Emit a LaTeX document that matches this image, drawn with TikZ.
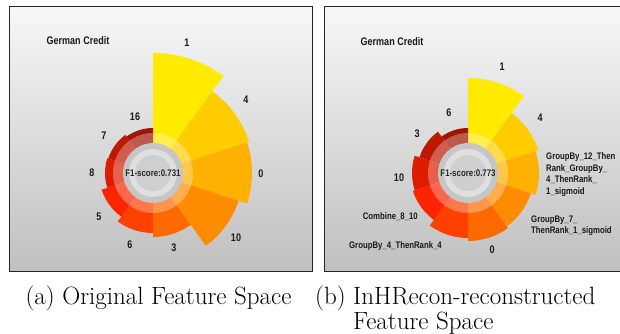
\documentclass[tikz,border=0pt]{standalone}
\usepackage{fontspec}
\newfontfamily\chartfont{Liberation Sans Bold}[FakeStretch=0.82]
\usepackage{tikz}

% wedge colours, outer ring, clockwise from the top
\definecolor{w0}{HTML}{FFEA00}
\definecolor{w1}{HTML}{FFCC00}
\definecolor{w2}{HTML}{FFB000}
\definecolor{w3}{HTML}{FF8C00}
\definecolor{w4}{HTML}{FF6A00}
\definecolor{w5}{HTML}{FF4000}
\definecolor{w6}{HTML}{FF2400}
\definecolor{w7}{HTML}{DD1C00}
\definecolor{w8}{HTML}{BE1800}
\definecolor{w9}{HTML}{A01400}

\tikzstyle{panel} = [draw=black!85, line width=1pt]
\tikzstyle{numlabel} = [font=\chartfont\fontsize{11}{12}\selectfont,
    inner sep=0pt, text=black!90]
\tikzstyle{namelabel} = [font=\chartfont\fontsize{9.5}{11.6}\selectfont,
    inner sep=0pt, align=left, text=black!90]
\tikzstyle{titlelabel} = [font=\chartfont\fontsize{11}{12}\selectfont,
    inner sep=0pt, text=black!90]
\tikzstyle{scorelabel} = [font=\chartfont\fontsize{9.6}{11}\selectfont,
    inner sep=0pt, text=black!85]
\tikzstyle{caption} = [font=\fontsize{25}{25}\selectfont, inner sep=0pt]

\begin{document}
\begin{tikzpicture}[x=1pt, y=1pt]
\useasboundingbox (0,0) rectangle (620,334);

% backgrounds
\shade[top color=gray!6, bottom color=gray!50] (9,62) rectangle (312,327);
\shade[top color=gray!6, bottom color=gray!50] (324,62) rectangle (623,327);

\coordinate (ca) at (153,161);
\coordinate (cb) at (468,161);

% original feature space
\foreach \r [count=\i from 0] in {120,101,99,90,64,60,54,48,47,45}{
  \fill[w\i] (ca) -- ++({90-36*\i}:\r)
    arc[start angle={90-36*\i}, end angle={54-36*\i}, radius=\r] -- cycle;
}
\fill[white, opacity=0.3, even odd rule] (ca) circle[radius=40] (ca) circle[radius=30];
\fill[gray!45] (ca) circle[radius=30];
\fill[gray!25] (ca) circle[radius=24];
\fill[gray!38] (ca) circle[radius=18];

% reconstructed feature space
\foreach \r [count=\i from 0] in {95,74,71,66,68,65,58,56,51,45}{
  \fill[w\i] (cb) -- ++({90-36*\i}:\r)
    arc[start angle={90-36*\i}, end angle={54-36*\i}, radius=\r] -- cycle;
}
\fill[white, opacity=0.3, even odd rule] (cb) circle[radius=40] (cb) circle[radius=30];
\fill[gray!45] (cb) circle[radius=30];
\fill[gray!25] (cb) circle[radius=24];
\fill[gray!38] (cb) circle[radius=18];

% labels (a)
\node[titlelabel] (titlea) at (78,293) {German Credit};
\node[scorelabel] (scorea) at (ca) {F1-score:0.731};
\node[numlabel] (a1) at (187,291) {1};
\node[numlabel] (a4) at (246,234) {4};
\node[numlabel] (a0) at (261,160) {0};
\node[numlabel] (a10) at (236,96) {10};
\node[numlabel] (a3) at (174,86) {3};
\node[numlabel] (a6) at (130,89) {6};
\node[numlabel] (a5) at (99,117) {5};
\node[numlabel] (a8) at (92,161) {8};
\node[numlabel] (a7) at (104,198) {7};
\node[numlabel] (a16) at (135,217) {16};

% labels (b)
\node[titlelabel] (titleb) at (392,292) {German Credit};
\node[scorelabel] (scoreb) at (cb) {F1-score:0.773};
\node[numlabel] (b1) at (502,267) {1};
\node[numlabel] (b4) at (540,216) {4};
\node[namelabel, anchor=west] (bgb12) at (546,159.5)
    {GroupBy\_12\_Then\\Rank\_GroupBy\_\\4\_ThenRank\_\\1\_sigmoid};
\node[namelabel, anchor=west] (bgb7) at (531,108.5)
    {GroupBy\_7\_\\ThenRank\_1\_sigmoid};
\node[numlabel] (b0) at (492,84) {0};
\node[namelabel] (bgb4) at (395.5,88) {GroupBy\_4\_ThenRank\_4};
\node[namelabel, anchor=east] (bcomb) at (418,117) {Combine\_8\_10};
\node[numlabel] (b10) at (399,156) {10};
\node[numlabel] (b3) at (417,200) {3};
\node[numlabel] (b6) at (449,221) {6};

% frames
\draw[panel] (9,62) rectangle (312,327);
\draw[panel] (324,62) rectangle (623,327);

% captions
\node[caption] (capa) at (158.5,36) {(a) Original Feature Space};
\node[caption, anchor=north west] (capb) at (315,48.5) {%
    \begin{tabular}{@{}l@{\ }l@{}}
      (b) & InHRecon-reconstructed\\
          & Feature Space
    \end{tabular}};

\end{tikzpicture}
\end{document}
